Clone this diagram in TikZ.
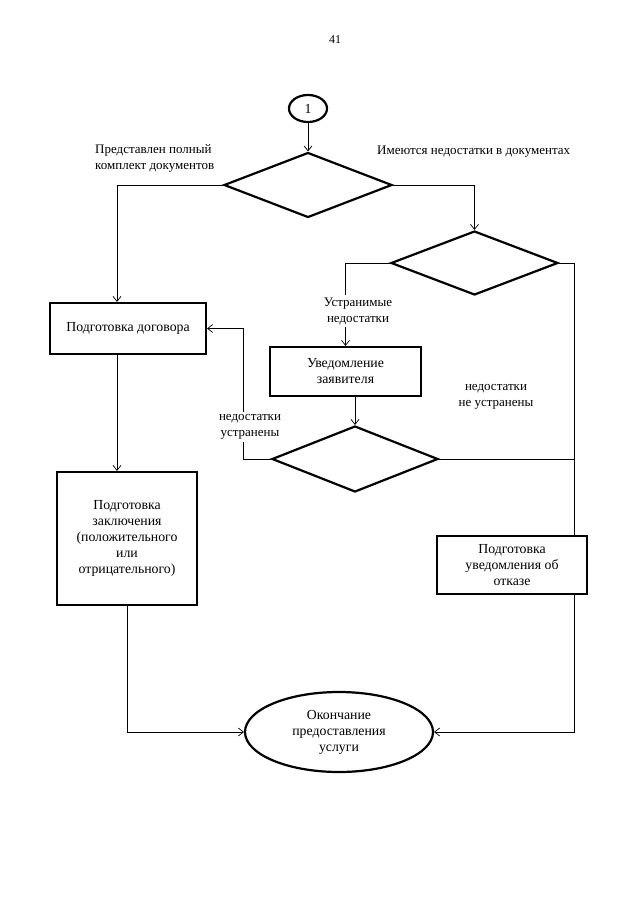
\documentclass[tikz,border=0pt]{standalone}
\usepackage{fontspec}
\setmainfont{Liberation Serif}
\usetikzlibrary{shapes.geometric,arrows.meta}
\begin{document}
\begin{tikzpicture}[x=1pt,y=-1pt,
  every node/.style={font=\fontsize{13}{16}\selectfont},
  box/.style={draw, line width=2.2pt, align=center, inner sep=0pt, font=\fontsize{13.8}{16}\selectfont},
  dia/.style={diamond, draw, line width=2.2pt, inner sep=0pt},
  oval/.style={ellipse, draw, line width=2.2pt, align=center, inner sep=0pt, font=\fontsize{13.8}{16}\selectfont},
  lbl/.style={align=center, inner sep=2pt},
  line/.style={line width=0.7pt},
  conn/.style={line width=0.7pt, -{Straight Barb[length=5pt,width=8pt]}}]
\useasboundingbox (0,0) rectangle (640,905);
\node[font=\fontsize{12}{14}\selectfont] (pg) at (335,40) {41};
\node[oval, minimum width=38, minimum height=27] (start) at (308,108.5) {1};
\node[dia, minimum width=168, minimum height=65] (d1) at (308,185) {};
\node[dia, minimum width=167, minimum height=64] (d2) at (474.5,263) {};
\node[box, minimum width=156, minimum height=51] (dog) at (128,328.5) {Подготовка договора};
\node[box, minimum width=151, minimum height=49] (uv) at (345.5,371.5) {Уведомление\\заявителя};
\node[dia, minimum width=166, minimum height=66] (d3) at (355,459) {};
\node[box, minimum width=140, minimum height=133] (zak) at (127,538.5) {Подготовка\\заключения\\(положительного\\или\\отрицательного)};
\node[box, minimum width=150, minimum height=58] (otk) at (512,565) {Подготовка\\уведомления об\\отказе};
\node[oval, minimum width=188, minimum height=80] (end) at (339,732) {Окончание\\предоставления\\услуги};

\node[lbl, align=left, anchor=west] (l0) at (93,158) {Представлен полный\\комплект документов};
\node[lbl, anchor=west] (l2) at (375,152) {Имеются недостатки в документах};
\node[lbl] (l1) at (358,311) {Устранимые\\недостатки};
\node[lbl] (l3) at (250,427) {недостатки\\устранены};
\node[lbl] (l4) at (496,397) {недостатки\\не устранены};

\coordinate (rx) at ([xshift=62pt]otk.north);
\coordinate (vx) at (243,0);

\draw[conn] (start.south) -- (d1.north);
\draw[conn] (d1.west) -| ([xshift=-11pt]dog.north);
\draw[conn] (d1.east) -| (d2.north);
\draw[line] (d2.west) -| (l1.north -| uv.north);
\draw[conn] (l1.south -| uv.north) -- (uv.north);
\draw[line] (d2.east) -| (rx);
\draw[conn] ([xshift=-11pt]dog.south) -- ([xshift=-10pt]zak.north);
\draw[conn] (uv.south -| d3.north) -- (d3.north);
\draw[line] (d3.west) -| (vx |- l3.south);
\draw[conn] (vx |- l3.north) |- (dog.east);
\draw[line] (d3.east) -- (d3.east -| rx);
\draw[conn] (rx |- otk.south) |- (end.east);
\draw[conn] (zak.south) |- (end.west);
\end{tikzpicture}
\end{document}
